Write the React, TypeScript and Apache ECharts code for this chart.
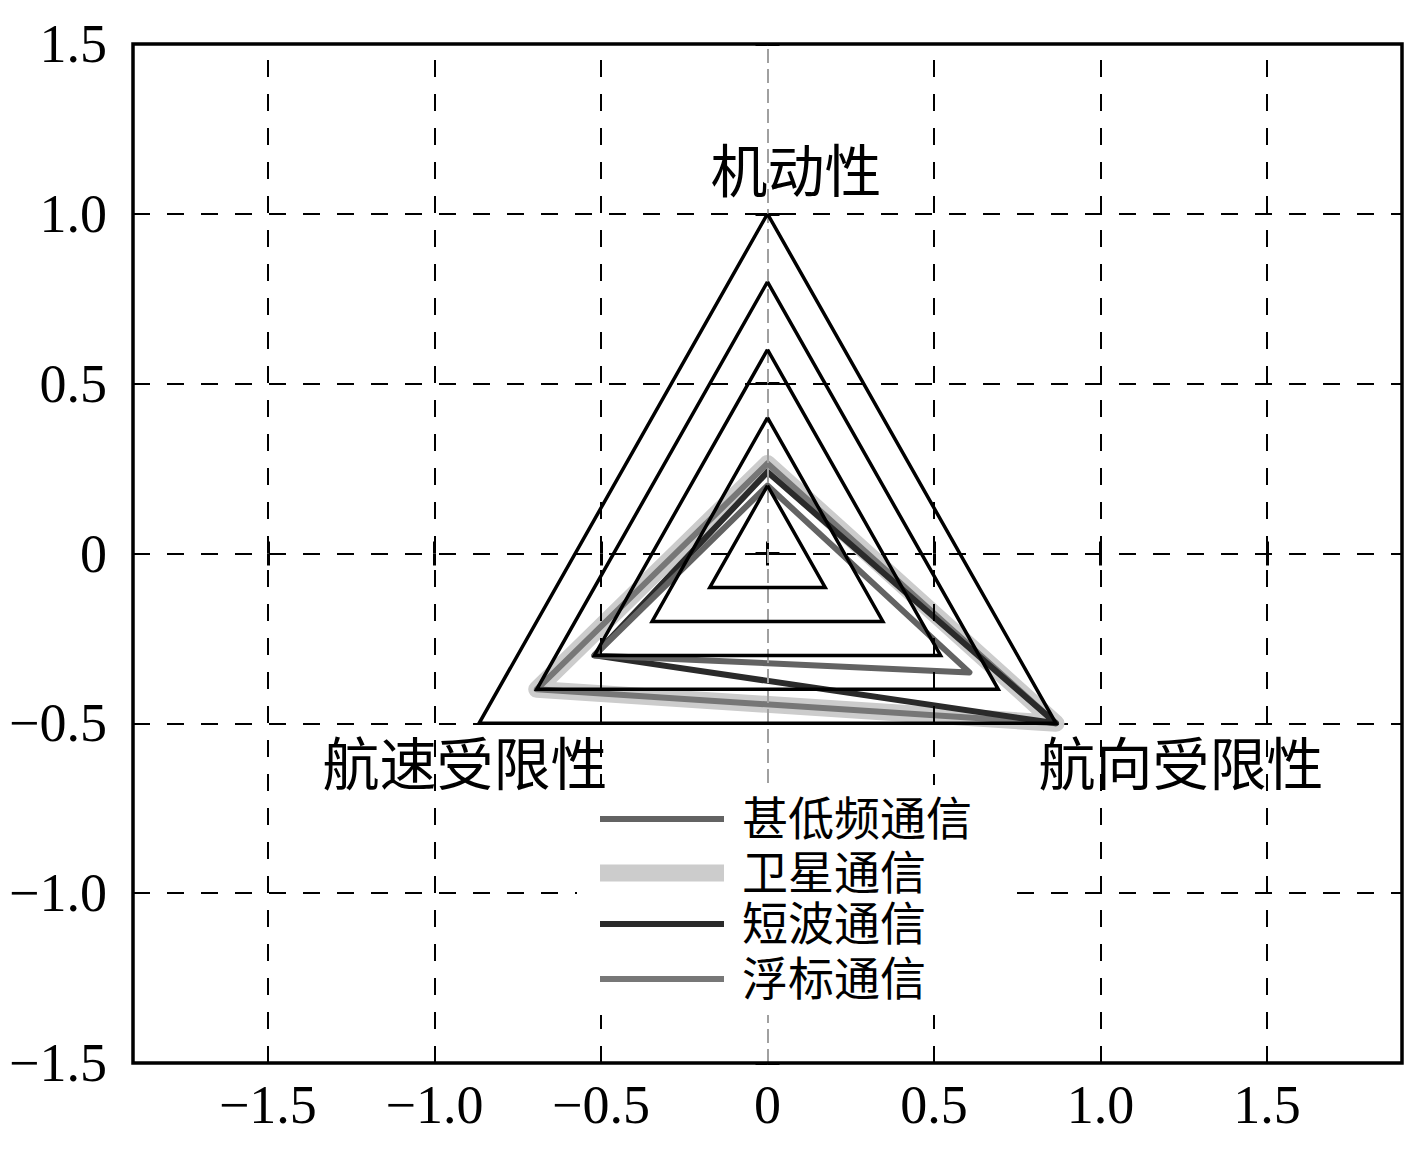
import React, { useEffect, useRef } from 'react';
import * as echarts from 'echarts';

// Radar axes (clockwise from top): 机动性 (top), 航向受限性 (lower right), 航速受限性 (lower left)
const axisNames = ['机动性', '航向受限性', '航速受限性'];
const axisAngles = [90, -30, 210];
const levels = [0.2, 0.4, 0.6, 0.8, 1.0];

const seriesNames = ['甚低频通信', '卫星通信', '短波通信', '浮标通信'];
const vlfValues = [0.2, 0.7, 0.6];
const satValues = [0.265, 1.0, 0.8];
const hfValues = [0.24, 1.0, 0.6];
const buoyValues = [0.265, 1.0, 0.8];

const xTicks = [-1.5, -1.0, -0.5, 0, 0.5, 1.0, 1.5];
const xGridLines = [-1.5, -1.0, -0.5, 0.5, 1.0, 1.5];
const centerLines = [0];

const SERIF = "'Liberation Serif', 'Noto Sans CJK SC', serif";

function ring(values: number[]): number[][] {
  const pts = values.map((r, i) => {
    const a = (axisAngles[i] * Math.PI) / 180;
    return [r * Math.cos(a), r * Math.sin(a)];
  });
  return [...pts, pts[0]];
}

function fmt(v: number): string {
  const near = Math.abs(v * 2 - Math.round(v * 2)) < 1e-6;
  if (!near) return '';
  if (Math.abs(v) < 1e-9) return '0';
  return (v < 0 ? '\u2212' : '') + Math.abs(v).toFixed(1);
}

export default function App() {
  const ref = useRef<HTMLDivElement>(null);
  useEffect(() => {
    if (!ref.current) return;
    const chart = echarts.init(ref.current, null, { renderer: 'svg' });

    const dataSeries = [
      { name: seriesNames[1], values: satValues, color: '#cccccc', width: 17, z: 2 },
      { name: seriesNames[3], values: buoyValues, color: '#777777', width: 6, z: 3 },
      { name: seriesNames[2], values: hfValues, color: '#2a2a2a', width: 6, z: 3 },
      { name: seriesNames[0], values: vlfValues, color: '#636363', width: 6, z: 3 },
    ];
    const legendMeta: Record<string, { color: string; width: number }> = {};
    dataSeries.forEach((d) => (legendMeta[d.name] = { color: d.color, width: d.width }));
    const legendCenters = [819, 873, 924, 979];

    const series: any[] = [];
    dataSeries.forEach((d) => {
      series.push({
        type: 'line',
        name: d.name,
        data: ring(d.values),
        symbol: 'none',
        z: d.z,
        color: d.color,
        itemStyle: { color: d.color },
        lineStyle: { color: d.color, width: d.width, join: 'round', cap: 'round' },
        silent: true,
      });
    });
    levels.forEach((r, i) => {
      const s: any = {
        type: 'line',
        name: 'level' + r,
        data: ring([r, r, r]),
        symbol: 'none',
        z: 5,
        lineStyle: { color: '#000', width: 3.5, join: 'miter' },
        silent: true,
      };
      if (i === levels.length - 1) {
        s.markLine = {
          silent: true,
          symbol: 'none',
          label: { show: false },
          data: [
            ...xGridLines.map((v) => ({
              xAxis: v,
              lineStyle: { color: '#000', width: 2, type: [17, 17] },
            })),
            ...centerLines.map((v) => ({
              xAxis: v,
              lineStyle: { color: '#a0a0a0', width: 2, type: [14, 6] },
            })),
          ],
        };
      }
      series.push(s);
    });

    const labelPos = [
      [796, 172],
      [1181, 765],
      [465, 765],
    ];

    chart.setOption({
      animation: false,
      backgroundColor: '#fff',
      grid: {
        left: 133,
        top: 44,
        width: 1269,
        height: 1019,
        show: true,
        borderColor: '#000',
        borderWidth: 3.5,
        backgroundColor: 'transparent',
        z: 10,
      },
      xAxis: [
        {
          type: 'value',
          min: -1.905,
          max: 1.905,
          position: 'bottom',
          axisLine: { show: false },
          axisTick: {
            show: true,
            inside: true,
            length: 12,
            customValues: xTicks,
            lineStyle: { color: '#000', width: 3 },
          },
          axisLabel: {
            show: true,
            customValues: xTicks,
            formatter: fmt,
            fontSize: 54,
            fontFamily: SERIF,
            color: '#000',
            margin: 15,
          },
          splitLine: { show: false },
        },
        {
          type: 'value',
          min: -1.905,
          max: 1.905,
          position: 'top',
          axisLine: { show: false },
          axisTick: {
            show: true,
            inside: true,
            length: 12,
            customValues: xTicks,
            lineStyle: { color: '#000', width: 3 },
          },
          axisLabel: { show: false },
          splitLine: { show: false },
        },
      ],
      yAxis: [
        {
          type: 'value',
          min: -1.5,
          max: 1.5,
          interval: 0.5,
          position: 'left',
          axisLine: { show: false },
          axisTick: {
            show: true,
            inside: true,
            length: 12,
            lineStyle: { color: '#000', width: 3 },
          },
          axisLabel: {
            show: true,
            formatter: fmt,
            fontSize: 54,
            fontFamily: SERIF,
            color: '#000',
            margin: 26,
          },
          splitLine: { show: true, lineStyle: { color: '#000', width: 2, type: [17, 17] } },
        },
        {
          type: 'value',
          min: -1.5,
          max: 1.5,
          interval: 0.5,
          position: 'right',
          axisLine: { show: false },
          axisTick: {
            show: true,
            inside: true,
            length: 12,
            lineStyle: { color: '#000', width: 3 },
          },
          axisLabel: { show: false },
          splitLine: { show: false },
        },
      ],
      legend: seriesNames.map((name, i) => ({
        data: [{ name, icon: 'rect' }],
        left: 600,
        top: legendCenters[i] - 23,
        padding: 0,
        z: 8,
        itemWidth: 124,
        itemHeight: legendMeta[name].width,
        selectedMode: false,
        orient: 'vertical',
        textStyle: {
          fontSize: 46,
          lineHeight: 46,
          fontFamily: SERIF,
          color: '#000',
          padding: [0, 0, 0, 13],
        },
      })),
      graphic: [
        {
          type: 'rect',
          z: 7,
          silent: true,
          shape: { x: 577, y: 785, width: 425, height: 230 },
          style: { fill: '#fff' },
        },
        ...axisNames.map((t, i) => ({
          type: 'text',
          x: labelPos[i][0],
          y: labelPos[i][1],
          z: 9,
          silent: true,
          style: {
            text: t,
            fontSize: 57,
            fontFamily: SERIF,
            fill: '#000',
            align: 'center',
            verticalAlign: 'middle',
          },
        })),
      ],
      series,
    });
    return () => chart.dispose();
  }, []);
  return (
    <div
      ref={ref}
      style={{ position: 'absolute', left: 0, top: 0, width: 1417, height: 1157, background: '#fff' }}
    />
  );
}
